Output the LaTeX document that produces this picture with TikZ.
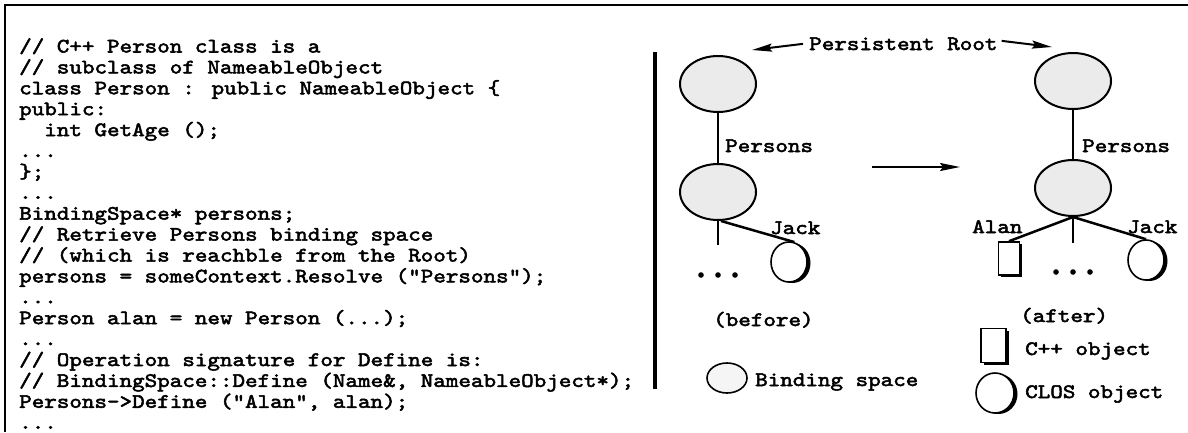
\documentclass[tikz,border=0pt]{standalone}
\usepackage{fontspec}
\newfontfamily\codefont{lmmono10-regular}[Extension=.otf, FakeStretch=1.166, FakeBold=2.5]
\usetikzlibrary{arrows.meta,shapes.geometric,shadows,calc}

\begin{document}
\begin{tikzpicture}[x=1pt,y=-1pt,
  txt/.style={font=\codefont\fontsize{20.5}{20.9}\selectfont, inner sep=0pt, anchor=base west},
  space/.style={ellipse, draw, line width=2pt, fill=black!8, minimum width=76pt, minimum height=56pt, inner sep=0pt},
  clos/.style={ellipse, draw, line width=1.6pt, fill=white, minimum width=36pt, minimum height=40pt, inner sep=0pt,
    drop shadow={shadow xshift=3.5pt, shadow yshift=-1pt, opacity=1, fill=black}},
  cpp/.style={rectangle, draw, line width=1.6pt, fill=white, minimum width=21pt, minimum height=33pt, inner sep=0pt,
    drop shadow={shadow xshift=2.5pt, shadow yshift=-2pt, opacity=1, fill=black}},
  link/.style={line width=2.5pt},
  pointer/.style={line width=2pt, -{Stealth[length=20pt,width=8pt,inset=3pt]}},
  dot/.style={fill=black}
]
\useasboundingbox (0,0) rectangle (1188,432);

% frame and separator
\draw[line width=2.5pt] (5,432) -- (5,5) -- (1188,5);
\draw[line width=3.5pt] (655,52) -- (655,389);

% C++ source listing, one node per line (baseline step 20.9)
\node[txt, name=code1]  at (19, 52.5) {// C++ Person class is a};
\node[txt, name=code2]  at (19, 73.4) {// subclass of NameableObject};
\node[txt, name=code3]  at (19, 94.3) {class Person : public NameableObject \{};
\node[txt, name=code4]  at (19,115.2) {public:};
\node[txt, name=code5]  at (19,136.1) {\phantom{xx}int GetAge ();};
\node[txt, name=code6]  at (19,157.0) {...};
\node[txt, name=code7]  at (19,177.9) {\};};
\node[txt, name=code8]  at (19,198.8) {...};
\node[txt, name=code9]  at (19,219.7) {BindingSpace* persons;};
\node[txt, name=code10] at (19,240.6) {// Retrieve Persons binding space};
\node[txt, name=code11] at (19,261.5) {// (which is reachble from the Root)};
\node[txt, name=code12] at (19,282.4) {persons = someContext.Resolve ("Persons");};
\node[txt, name=code13] at (19,303.3) {...};
\node[txt, name=code14] at (19,324.2) {Person alan = new Person (...);};
\node[txt, name=code15] at (19,345.1) {...};
\node[txt, name=code16] at (19,366.0) {// Operation signature for Define is:};
\node[txt, name=code17] at (19,386.9) {// BindingSpace::Define (Name\&, NameableObject*);};
\node[txt, name=code18] at (19,407.8) {Persons->Define ("Alan", alan);};
\node[txt, name=code19] at (19,428.7) {...};

% persistent root caption
\node[txt, name=proot] at (809,50) {Persistent Root};
\coordinate (rootTipL) at (752,50);
\coordinate (rootTipR) at (1052,47);
\draw[pointer] ([xshift=-6pt]proot.west) -- (rootTipL);
\draw[pointer] ([xshift=4pt,yshift=3pt]proot.east) -- (rootTipR);

% before
\node[space, name=rL] at (718,84) {};
\node[space, name=pL] at (718,192) {};
\draw[link] (rL) -- (pL);
\node[txt, name=persL] at (725,152) {Persons};
\node[clos, name=jL] at (789,262) {};
\node[txt, name=jackL] at (770,234) {Jack};
\coordinate (dL) at (718,245);
\draw[link] (pL.south) -- (dL);
\draw[link] ([xshift=3pt]pL.south) -- (jL.75);
\foreach \x in {701,718,735} \fill[dot] (\x,275) circle (2.8);
\node[txt, name=before] at (713,326) {(before)};
\node[space, fill=black!4, minimum width=40pt, minimum height=30pt, line width=1.6pt, name=lgB] at (727,378) {};
\node[txt, name=lgBt] at (755,386) {Binding space};

% transition
\coordinate (mA) at (872,167);
\coordinate (mB) at (960,167);
\draw[pointer] (mA) -- (mB);

% after
\node[space, name=rR] at (1073,81) {};
\node[space, name=pR] at (1073,188) {};
\draw[link] (rR) -- (pR);
\node[txt, name=persR] at (1082,152) {Persons};
\node[cpp, name=aR] at (1009,258.5) {};
\node[txt, name=alanT] at (972,233) {Alan};
\node[clos, name=jR] at (1146,260) {};
\node[txt, name=jackR] at (1127,233) {Jack};
\coordinate (dR) at (1073,243);
\draw[link] (pR.south) -- (aR.north);
\draw[link] (pR.south) -- (dR);
\draw[link] (pR.south) -- (jR.north);
\foreach \x in {1056,1073,1090} \fill[dot] (\x,272) circle (2.8);
\node[txt, name=after] at (1020,322) {(after)};

% legend
\node[cpp, minimum width=25pt, minimum height=34pt, name=lgC] at (993.5,345.5) {};
\node[txt, name=lgCt] at (1025,355) {C++ object};
\node[clos, minimum width=38pt, minimum height=40pt, name=lgO] at (995,393) {};
\node[txt, name=lgOt] at (1025,398) {CLOS object};
\end{tikzpicture}
\end{document}
